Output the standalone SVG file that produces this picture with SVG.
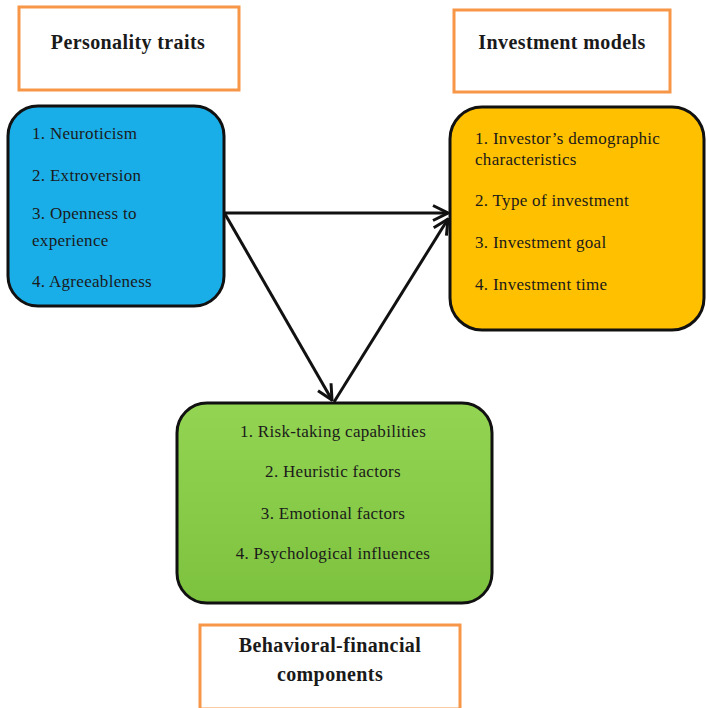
<svg xmlns="http://www.w3.org/2000/svg" width="706" height="708" viewBox="0 0 706 708">
<defs>
<style>
.lbl{fill:#fff;stroke:#F79646;stroke-width:3}
.title{font-family:"Liberation Serif",serif;font-weight:bold;font-size:20px;letter-spacing:0.4px;fill:#1a1a1a;text-anchor:middle}
.node{stroke:#111;stroke-width:3}
.item{font-family:"Liberation Serif",serif;font-size:17px;letter-spacing:0.3px;fill:#1a1a1a}
.conn{stroke:#111;stroke-width:3;fill:none}
</style>
<marker id="arr" viewBox="0 0 12 12" refX="11" refY="6" markerWidth="6" markerHeight="6" orient="auto" markerUnits="strokeWidth">
<polyline points="1,1 11,6 1,11" fill="none" stroke="#111" stroke-width="2"/>
</marker>
<linearGradient id="g" x1="0" y1="0" x2="0" y2="1">
<stop offset="0" stop-color="#93D553"/>
<stop offset="1" stop-color="#7DC23E"/>
</linearGradient>
</defs>
<rect width="706" height="708" fill="#fff"/>
<g id="personality-traits-label">
<rect class="lbl" x="19" y="7" width="220" height="83"/>
<text class="title" x="128" y="49">Personality traits</text>
</g>
<g id="investment-models-label">
<rect class="lbl" x="454" y="10" width="216" height="82"/>
<text class="title" x="562" y="49">Investment models</text>
</g>
<g id="personality-traits">
<rect class="node" x="8" y="106" width="216" height="200" rx="30" fill="#1AAEE8"/>
<text class="item" x="32" y="139">1. Neuroticism</text>
<text class="item" x="32" y="181">2. Extroversion</text>
<text class="item" x="32" y="219">3. Openness to</text>
<text class="item" x="32" y="246">experience</text>
<text class="item" x="32" y="287">4. Agreeableness</text>
</g>
<g id="investment-models">
<rect class="node" x="450" y="107" width="254" height="223" rx="32" fill="#FFC000"/>
<text class="item" x="475" y="144">1. Investor’s demographic</text>
<text class="item" x="475" y="165">characteristics</text>
<text class="item" x="475" y="206">2. Type of investment</text>
<text class="item" x="475" y="248">3. Investment goal</text>
<text class="item" x="475" y="290">4. Investment time</text>
</g>
<g id="behavioral-financial">
<rect class="node" x="177" y="403" width="315" height="200" rx="30" fill="url(#g)"/>
<text class="item" x="333" y="437" text-anchor="middle">1. Risk-taking capabilities</text>
<text class="item" x="333" y="477" text-anchor="middle">2. Heuristic factors</text>
<text class="item" x="333" y="519" text-anchor="middle">3. Emotional factors</text>
<text class="item" x="333" y="559" text-anchor="middle">4. Psychological influences</text>
</g>
<g id="behavioral-financial-label">
<rect class="lbl" x="200" y="625" width="260" height="84"/>
<text class="title" x="330" y="652">Behavioral-financial</text>
<text class="title" x="330" y="681">components</text>
</g>
<g id="connectors">
<line class="conn" x1="225" y1="213" x2="448" y2="213" marker-end="url(#arr)"/>
<line class="conn" x1="225" y1="214" x2="332" y2="400" marker-end="url(#arr)"/>
<line class="conn" x1="334" y1="402" x2="448" y2="219" marker-end="url(#arr)"/>
</g>
</svg>
